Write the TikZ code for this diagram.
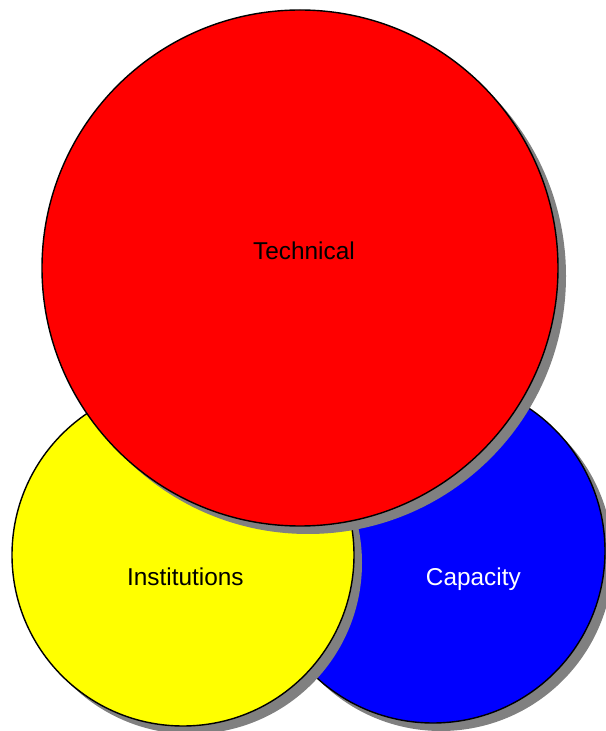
\documentclass[tikz,border=0pt]{standalone}
\usepackage{fontspec}
\setmainfont{Liberation Sans}
\usepackage{tikz}
\usetikzlibrary{shapes, shadows, positioning}
\definecolor{techred}{RGB}{255, 0, 0}
\definecolor{instyellow}{RGB}{255, 255, 0}
\definecolor{capblue}{RGB}{0, 0, 255}
\definecolor{shadowgray}{RGB}{128, 128, 128}

\begin{document}
\begin{tikzpicture}[
  setcircle/.style={circle, draw=black, line width=1.2pt, inner sep=0pt,
    drop shadow={shadow xshift=0.24cm, shadow yshift=-0.24cm, fill=shadowgray, opacity=1}},
  setlabel/.style={anchor=base, font=\fontsize{20.8}{24}\selectfont}
]
  \useasboundingbox (0, 0) rectangle (18.18, 21.93);

  % Capacity
  \node[setcircle, fill=capblue, minimum size=10.32cm] (capacity) at (12.99, 5.40) {};

  % Institutions
  \node[setcircle, fill=instyellow, minimum size=10.26cm] (institutions) at (5.49, 5.28) {};

  % Technical
  \node[setcircle, fill=techred, minimum size=15.48cm] (technical) at (9.00, 13.89) {};

  % Labels
  \node[setlabel] (technicallabel) at (9.12, 14.14) {Technical};
  \node[setlabel] (institutionslabel) at (5.56, 4.36) {Institutions};
  \node[setlabel, text=white] (capacitylabel) at (14.20, 4.36) {Capacity};
\end{tikzpicture}
\end{document}
